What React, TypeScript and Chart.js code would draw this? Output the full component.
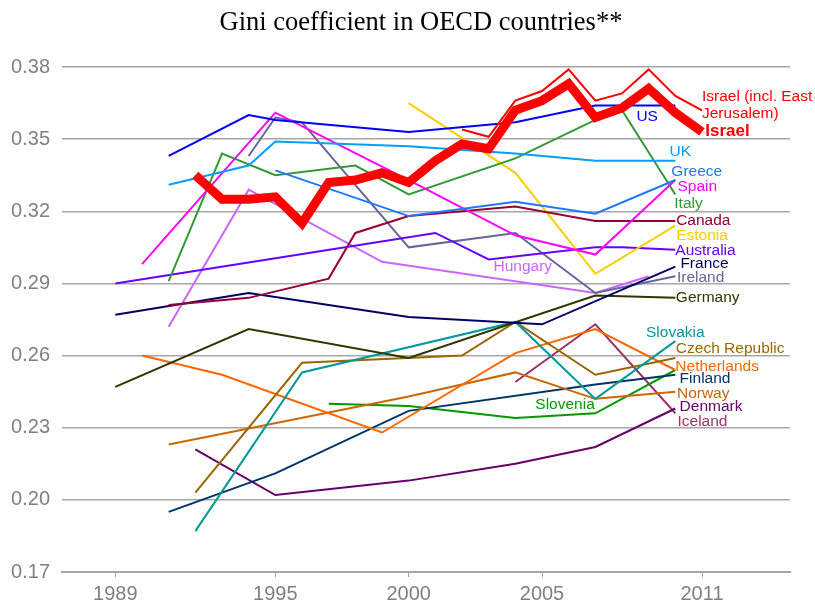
import React, { useEffect, useRef } from "react";
import { Chart, registerables } from "chart.js";

Chart.register(...registerables);

// ---- axis ticks ----
const X_TICKS = [1989, 1995, 2000, 2005, 2011];
const Y_TICKS = [0.17, 0.2, 0.23, 0.26, 0.29, 0.32, 0.35, 0.38];

// ---- series data (years / Gini values) ----
const ISRAEL_YEARS = [1992, 1993, 1994, 1995, 1996, 1997, 1998, 1999, 2000, 2001, 2002, 2003, 2004, 2005, 2006, 2007, 2008, 2009, 2010, 2011];
const ISRAEL_GINI = [0.335, 0.325, 0.325, 0.326, 0.315, 0.332, 0.333, 0.336, 0.332, 0.341, 0.348, 0.346, 0.362, 0.366, 0.373, 0.359, 0.363, 0.371, 0.361, 0.353];

const ISRAEL_EJ_YEARS = [2002, 2003, 2004, 2005, 2006, 2007, 2008, 2009, 2010, 2011];
const ISRAEL_EJ_GINI = [0.354, 0.351, 0.366, 0.370, 0.379, 0.366, 0.369, 0.379, 0.368, 0.362];

const US_YEARS = [1991, 1994, 1995, 2000, 2004, 2007, 2010];
const US_GINI = [0.343, 0.360, 0.358, 0.353, 0.357, 0.364, 0.364];

const UK_YEARS = [1991, 1994, 1995, 2000, 2004, 2007, 2010];
const UK_GINI = [0.331, 0.339, 0.349, 0.347, 0.344, 0.341, 0.341];

const GREECE_YEARS = [1995, 2000, 2004, 2007, 2010];
const GREECE_GINI = [0.337, 0.318, 0.324, 0.319, 0.333];

const SPAIN_YEARS = [1990, 1995, 2000, 2004, 2007, 2010];
const SPAIN_GINI = [0.298, 0.361, 0.333, 0.310, 0.302, 0.333];

const ITALY_YEARS = [1991, 1993, 1995, 1998, 2000, 2004, 2007, 2008, 2010];
const ITALY_GINI = [0.291, 0.344, 0.335, 0.339, 0.327, 0.342, 0.358, 0.362, 0.327];

const CANADA_YEARS = [1991, 1994, 1997, 1998, 2000, 2004, 2007, 2010];
const CANADA_GINI = [0.281, 0.284, 0.292, 0.311, 0.318, 0.322, 0.316, 0.316];

const ESTONIA_YEARS = [2000, 2004, 2007, 2010];
const ESTONIA_GINI = [0.365, 0.336, 0.294, 0.314];

const AUSTRALIA_YEARS = [1989, 2001, 2003, 2007, 2008, 2010];
const AUSTRALIA_GINI = [0.290, 0.311, 0.300, 0.305, 0.305, 0.304];

const FRANCE_YEARS = [1989, 1994, 2000, 2005, 2010];
const FRANCE_GINI = [0.277, 0.286, 0.276, 0.273, 0.297];

const IRELAND_YEARS = [1994, 1995, 1996, 2000, 2004, 2007, 2010];
const IRELAND_GINI = [0.343, 0.359, 0.357, 0.305, 0.311, 0.286, 0.293];

const HUNGARY_YEARS = [1991, 1994, 1999, 2007, 2009];
const HUNGARY_GINI = [0.272, 0.329, 0.299, 0.286, 0.293];

const GERMANY_YEARS = [1989, 1994, 2000, 2007, 2010];
const GERMANY_GINI = [0.247, 0.271, 0.259, 0.285, 0.284];

const SLOVAKIA_YEARS = [1992, 1996, 2004, 2007, 2010];
const SLOVAKIA_GINI = [0.187, 0.253, 0.274, 0.242, 0.266];

const CZECH_YEARS = [1992, 1996, 2002, 2004, 2007, 2010];
const CZECH_GINI = [0.203, 0.257, 0.260, 0.274, 0.252, 0.259];

const NETHERLANDS_YEARS = [1990, 1993, 1999, 2004, 2007, 2010];
const NETHERLANDS_GINI = [0.260, 0.252, 0.228, 0.261, 0.271, 0.254];

const NORWAY_YEARS = [1991, 2000, 2004, 2007, 2010];
const NORWAY_GINI = [0.223, 0.243, 0.253, 0.242, 0.245];

const FINLAND_YEARS = [1991, 1995, 2000, 2007, 2010];
const FINLAND_GINI = [0.195, 0.211, 0.237, 0.248, 0.252];

const SLOVENIA_YEARS = [1997, 2000, 2004, 2007, 2010];
const SLOVENIA_GINI = [0.240, 0.239, 0.234, 0.236, 0.254];

const DENMARK_YEARS = [1992, 1995, 2000, 2004, 2007, 2010];
const DENMARK_GINI = [0.221, 0.202, 0.208, 0.215, 0.222, 0.238];

const ICELAND_YEARS = [2004, 2007, 2010];
const ICELAND_GINI = [0.249, 0.273, 0.236];

// ---- series table (built from the arrays above) ----
const SERIES = [
  { name: "Israel", years: ISRAEL_YEARS, vals: ISRAEL_GINI, color: "#FF0000", width: 9 },
  { name: "Israel (incl. East Jerusalem)", years: ISRAEL_EJ_YEARS, vals: ISRAEL_EJ_GINI, color: "#FF0000", width: 2 },
  { name: "US", years: US_YEARS, vals: US_GINI, color: "#0000FF", width: 2 },
  { name: "UK", years: UK_YEARS, vals: UK_GINI, color: "#00A0FF", width: 2 },
  { name: "Greece", years: GREECE_YEARS, vals: GREECE_GINI, color: "#1E78FF", width: 2 },
  { name: "Spain", years: SPAIN_YEARS, vals: SPAIN_GINI, color: "#FF00FF", width: 2 },
  { name: "Italy", years: ITALY_YEARS, vals: ITALY_GINI, color: "#339933", width: 2 },
  { name: "Canada", years: CANADA_YEARS, vals: CANADA_GINI, color: "#990033", width: 2 },
  { name: "Estonia", years: ESTONIA_YEARS, vals: ESTONIA_GINI, color: "#FFCC00", width: 2 },
  { name: "Australia", years: AUSTRALIA_YEARS, vals: AUSTRALIA_GINI, color: "#6600FF", width: 2 },
  { name: "France", years: FRANCE_YEARS, vals: FRANCE_GINI, color: "#000066", width: 2 },
  { name: "Ireland", years: IRELAND_YEARS, vals: IRELAND_GINI, color: "#666699", width: 2 },
  { name: "Hungary", years: HUNGARY_YEARS, vals: HUNGARY_GINI, color: "#CC66FF", width: 2 },
  { name: "Germany", years: GERMANY_YEARS, vals: GERMANY_GINI, color: "#333300", width: 2 },
  { name: "Slovakia", years: SLOVAKIA_YEARS, vals: SLOVAKIA_GINI, color: "#009999", width: 2 },
  { name: "Czech Republic", years: CZECH_YEARS, vals: CZECH_GINI, color: "#996600", width: 2 },
  { name: "Netherlands", years: NETHERLANDS_YEARS, vals: NETHERLANDS_GINI, color: "#FF6600", width: 2 },
  { name: "Norway", years: NORWAY_YEARS, vals: NORWAY_GINI, color: "#CC6600", width: 2 },
  { name: "Finland", years: FINLAND_YEARS, vals: FINLAND_GINI, color: "#003366", width: 2 },
  { name: "Slovenia", years: SLOVENIA_YEARS, vals: SLOVENIA_GINI, color: "#009900", width: 2 },
  { name: "Denmark", years: DENMARK_YEARS, vals: DENMARK_GINI, color: "#660066", width: 2 },
  { name: "Iceland", years: ICELAND_YEARS, vals: ICELAND_GINI, color: "#993366", width: 2 },
];

// ---- in-chart labels (anchored in data coordinates: year, Gini) ----
const LABELS = [
  { text: "Israel (incl. East", year: 2011.0, gini: 0.3678, color: "#FF0000", bold: false },
  { text: "Jerusalem)", year: 2011.0, gini: 0.3604, color: "#FF0000", bold: false },
  { text: "Israel", year: 2011.12, gini: 0.3532, color: "#FF0000", bold: true },
  { text: "US", year: 2008.54, gini: 0.3594, color: "#0000EE", bold: false },
  { text: "UK", year: 2009.78, gini: 0.3449, color: "#00A0FF", bold: false },
  { text: "Greece", year: 2009.85, gini: 0.3366, color: "#1E78FF", bold: false },
  { text: "Spain", year: 2010.08, gini: 0.3301, color: "#FF00FF", bold: false },
  { text: "Italy", year: 2009.96, gini: 0.3231, color: "#339933", bold: false },
  { text: "Canada", year: 2010.03, gini: 0.316, color: "#990033", bold: false },
  { text: "Estonia", year: 2010.03, gini: 0.3098, color: "#FFCC00", bold: false },
  { text: "Australia", year: 2010.0, gini: 0.3037, color: "#6600FF", bold: false },
  { text: "France", year: 2010.19, gini: 0.2981, color: "#000066", bold: false },
  { text: "Ireland", year: 2010.06, gini: 0.2922, color: "#666699", bold: false },
  { text: "Germany", year: 2010.02, gini: 0.2839, color: "#333300", bold: false },
  { text: "Hungary", year: 2003.18, gini: 0.297, color: "#CC66FF", bold: false },
  { text: "Slovakia", year: 2008.9, gini: 0.2693, color: "#009999", bold: false },
  { text: "Czech Republic", year: 2010.02, gini: 0.2628, color: "#996600", bold: false },
  { text: "Netherlands", year: 2010.0, gini: 0.2554, color: "#FF6600", bold: false },
  { text: "Finland", year: 2010.16, gini: 0.2502, color: "#003366", bold: false },
  { text: "Norway", year: 2010.06, gini: 0.2441, color: "#CC6600", bold: false },
  { text: "Slovenia", year: 2004.75, gini: 0.2395, color: "#009900", bold: false },
  { text: "Denmark", year: 2010.16, gini: 0.2388, color: "#660066", bold: false },
  { text: "Iceland", year: 2010.08, gini: 0.2325, color: "#993366", bold: false },
];

const TITLE = "Gini coefficient in OECD countries**";
const SANS = '"Liberation Sans", Arial, sans-serif';
const TICK_FONT = '"Liberation Sans Narrow", "Liberation Sans", Arial, sans-serif';

const labelPlugin = {
  id: "labelPlugin",
  afterDatasetsDraw(chart: any) {
    const { ctx } = chart;
    const xs = chart.scales.x;
    const ys = chart.scales.y;
    ctx.save();
    ctx.textAlign = "left";
    ctx.textBaseline = "middle";
    for (const l of LABELS) {
      ctx.font = l.bold ? `bold 17px ${SANS}` : `15.5px ${SANS}`;
      ctx.fillStyle = l.color;
      ctx.fillText(l.text, xs.getPixelForValue(l.year), ys.getPixelForValue(l.gini));
    }
    ctx.restore();
  },
  afterDraw(chart: any) {
    const { ctx } = chart;
    ctx.save();
    ctx.font = '26.5px "Liberation Serif", "Times New Roman", serif';
    ctx.fillStyle = "#000000";
    ctx.textAlign = "center";
    ctx.textBaseline = "middle";
    ctx.fillText(TITLE, 421, 23);
    ctx.restore();
  },
};

export default function App() {
  const canvasRef = useRef<HTMLCanvasElement | null>(null);

  useEffect(() => {
    document.body.style.margin = "0";
    const canvas = canvasRef.current;
    if (!canvas) return;
    const chart = new Chart(canvas, {
      type: "line",
      data: {
        datasets: SERIES.map((s) => ({
          label: s.name,
          data: s.years.map((yr, i) => ({ x: yr, y: s.vals[i] })),
          borderColor: s.color,
          backgroundColor: s.color,
          borderWidth: s.width,
          pointRadius: 0,
          tension: 0,
          fill: false,
          borderJoinStyle: "miter" as const,
        })),
      },
      options: {
        animation: false,
        responsive: false,
        devicePixelRatio: 1,
        layout: { padding: { top: 67, right: 25, left: 0, bottom: 0 } },
        plugins: {
          legend: { display: false },
          tooltip: { enabled: false },
          title: { display: false },
        },
        scales: {
          x: {
            type: "linear",
            min: 1987.0,
            max: 2014.3,
            afterBuildTicks: (s: any) => {
              s.ticks = X_TICKS.map((v) => ({ value: v }));
            },
            afterFit: (s: any) => {
              s.height = 36;
            },
            grid: { drawOnChartArea: false, drawTicks: true, tickLength: 5, color: "#A0A0A0", lineWidth: 1 },
            border: { display: true, color: "#A6A6A6", width: 2 },
            ticks: {
              autoSkip: false,
              maxRotation: 0,
              padding: 5,
              color: "#808080",
              font: { family: TICK_FONT, size: 20 },
              callback: (v: any) => String(v),
            },
          },
          y: {
            type: "linear",
            min: 0.17,
            max: 0.38,
            afterBuildTicks: (s: any) => {
              s.ticks = Y_TICKS.map((v) => ({ value: v }));
            },
            afterFit: (s: any) => {
              s.width = 62;
            },
            grid: { color: "#A6A6A6", lineWidth: 1.5, drawTicks: false },
            border: { display: false },
            ticks: {
              padding: 12,
              color: "#808080",
              font: { family: TICK_FONT, size: 20 },
              callback: (v: any) => Number(v).toFixed(2),
            },
          },
        },
      },
      plugins: [labelPlugin],
    });
    return () => chart.destroy();
  }, []);

  return (
    <div style={{ width: 815, height: 608 }}>
      <canvas ref={canvasRef} width={815} height={608} style={{ display: "block" }} />
    </div>
  );
}
